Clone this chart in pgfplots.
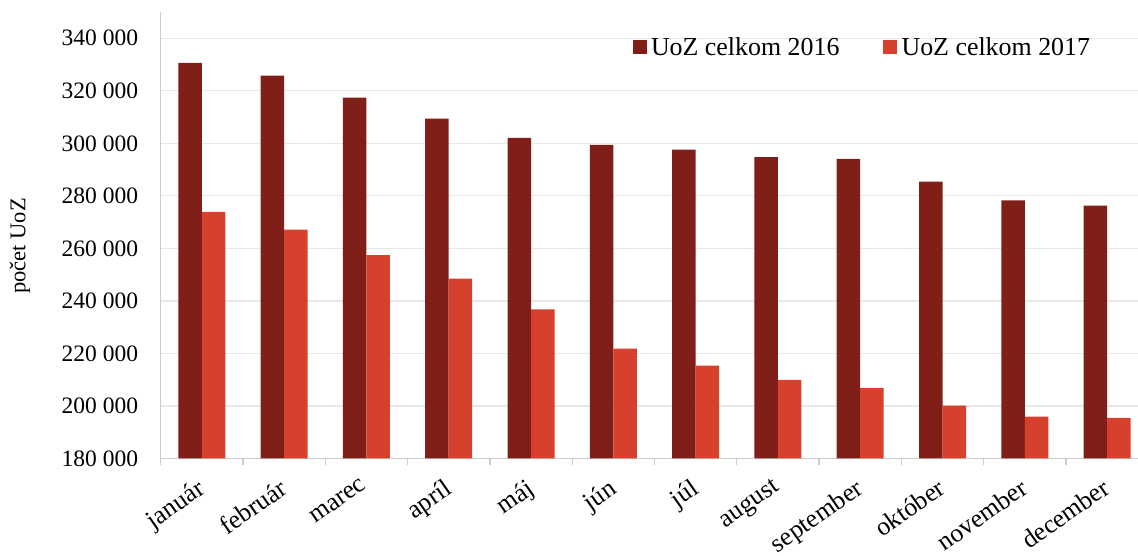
\documentclass[border=0pt]{standalone}
\usepackage{fontspec}
\setmainfont{Liberation Serif}
\usepackage{pgfplots}
\pgfplotsset{compat=1.18}
\definecolor{c16}{RGB}{127,31,24}
\definecolor{c17}{RGB}{216,64,46}
\definecolor{gridc}{RGB}{232,232,232}
\definecolor{axc}{RGB}{205,205,205}
\pgfplotsset{sqlegend/.style={legend image code/.code={\fill[##1] (0pt,-6.8pt) rectangle (13.6pt,6.8pt);}}}
\begin{document}
\begin{tikzpicture}
\useasboundingbox (-160.7pt,-97.5pt) rectangle (977.3pt,458.5pt);
\begin{axis}[
  scale only axis, width=977.3pt, height=446.5pt,
  xmin=-0.5, xmax=11.375, ymin=180000, ymax=350000,
  ybar=0pt, bar width=23.5pt,
  axis x line*=bottom, axis y line*=left,
  axis line style={axc, line width=1.3pt, -},
  xtick={0,...,11},
  xticklabels={január,február,marec,apríl,máj,jún,júl,august,september,október,november,december},
  minor xtick={-0.5,0.5,...,10.5},
  major tick length=0pt, minor tick length=7pt, tick align=outside,
  minor tick style={axc, line width=1.3pt},
  ytick={180000,200000,...,340000},
  yticklabels={180 000,200 000,220 000,240 000,260 000,280 000,300 000,320 000,340 000},
  ymajorgrids, grid style={gridc, line width=1.3pt},
  yticklabel style={font=\fontsize{23.5}{28}\selectfont, inner sep=0pt, xshift=-22.4pt},
  xticklabel style={font=\fontsize{25.8}{30}\selectfont, xshift=-6pt, yshift=-19pt, rotate=35, anchor=north east, inner sep=0pt},
  ylabel={počet UoZ},
  ylabel style={at={(axis description cs:-0.144,0.476)}, anchor=center, font=\fontsize{22.5}{26}\selectfont},
  legend style={draw=none, fill=none, at={(rel axis cs:0.483,0.948)}, anchor=north west,
    legend columns=2, font=\fontsize{25.9}{30}\selectfont, inner sep=0pt,
    /tikz/every odd column/.append style={column sep=2.5pt},
    /tikz/every even column/.append style={column sep=42pt}},
]
\addplot[fill=c16, draw=none, sqlegend] coordinates {
(0,330600) (1,325800) (2,317400) (3,309400) (4,302100) (5,299400)
(6,297600) (7,294700) (8,294100) (9,285400) (10,278300) (11,276300)};
\addplot[fill=c17, draw=none, sqlegend] coordinates {
(0,273900) (1,267100) (2,257400) (3,248500) (4,236800) (5,221800)
(6,215400) (7,209900) (8,206800) (9,200100) (10,195900) (11,195500)};
\legend{UoZ celkom 2016, UoZ celkom 2017}
\end{axis}
\end{tikzpicture}
\end{document}
